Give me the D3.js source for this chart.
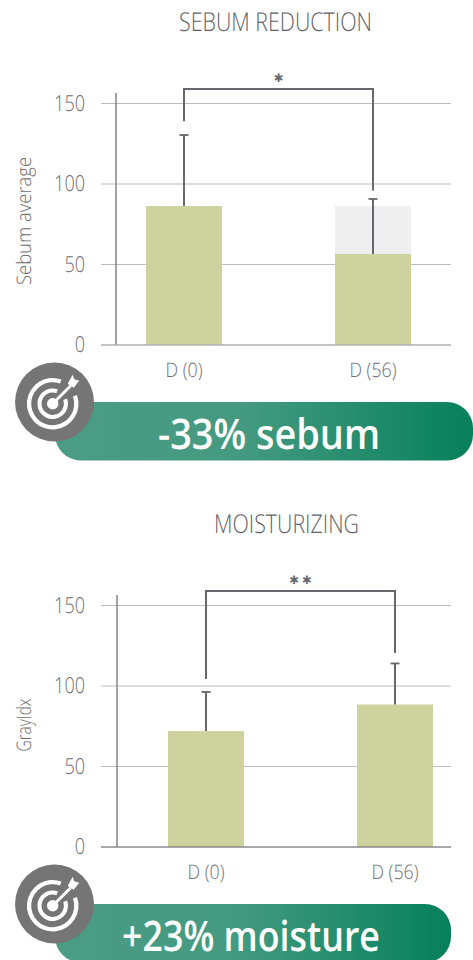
<!DOCTYPE html>
<html><head><meta charset="utf-8">
<style>html,body{margin:0;padding:0;background:#fff}svg{display:block}text{font-family:"Open Sans",sans-serif;text-rendering:geometricPrecision}</style>
<script src="https://cdnjs.cloudflare.com/ajax/libs/d3/7.8.5/d3.min.js"></script>
</head><body><svg id="c" width="473" height="960"></svg>
<script>
const categories = ["D (0)", "D (56)"];
const yTicks = [0, 50, 100, 150];
const sebumTitle = "SEBUM REDUCTION";
const sebumAxisLabel = "Sebum average";
const sebumBars = [86.3, 56.5];
const sebumGhost = [null, 86.3];
const sebumErrors = [130.4, 90.7];
const sebumBracket = [139, 96];
const sebumStars = "\u2731";
const sebumBanner = "-33% sebum";
const moistTitle = "MOISTURIZING";
const moistAxisLabel = "GrayIdx";
const moistBars = [72, 88.5];
const moistGhost = [null, null];
const moistErrors = [96.3, 114];
const moistBracket = [104.3, 120.5];
const moistStars = "\u2731\u2731";
const moistBanner = "+23% moisture";
const bracketTop = 159;

const svg = d3.select("#c");
const defs = svg.append("defs");
const gid = "bannerGrad";
const grad = defs.append("linearGradient").attr("id", gid).attr("x1","0").attr("x2","1").attr("y1","0").attr("y2","0");
grad.append("stop").attr("offset","0").attr("stop-color","#4b9c84");
grad.append("stop").attr("offset","0.45").attr("stop-color","#449a80");
grad.append("stop").attr("offset","1").attr("stop-color","#06805a");

// text squeezed horizontally to a target width
function fitted(sel, cx, y, str, size, width, color, weight, rot) {
  const t = sel.append("text").attr("text-anchor","middle").attr("font-size",size)
    .attr("fill",color).attr("font-weight",weight).text(str);
  const sx = width / t.node().getComputedTextLength();
  t.attr("transform", `translate(${cx},${y})${rot?" rotate(-90)":""} scale(${sx},1)`);
  return t;
}

function chart(o) {
  const g = svg.append("g");
  const y = d3.scaleLinear().domain([0,150]).range([o.y0, o.y0-241.5]);
  const x = d3.scalePoint().domain(categories).range(o.centers);
  const bw = 76;
  fitted(g, o.titleX, o.titleY, o.title, 26, o.titleW, "#5f6166", 300);
  g.selectAll(".g").data(yTicks.slice(1)).join("line")
    .attr("x1",101).attr("x2",451).attr("y1",d=>y(d)).attr("y2",d=>y(d))
    .attr("stroke","#bcbcbc").attr("stroke-width",1);
  g.selectAll(".ghost").data(o.ghost.map((v,i)=>({v,c:categories[i]})).filter(d=>d.v!=null)).join("rect")
    .attr("x",d=>x(d.c)-bw/2).attr("width",bw).attr("y",d=>y(d.v)).attr("height",d=>y(0)-y(d.v)).attr("fill","#efefef");
  g.selectAll(".bar").data(o.bars.map((v,i)=>({v,c:categories[i]}))).join("rect")
    .attr("x",d=>x(d.c)-bw/2).attr("width",bw).attr("y",d=>y(d.v)).attr("height",d=>y(0)-y(d.v)).attr("fill","#ced29f");
  g.append("line").attr("x1",o.axisX).attr("x2",o.axisX).attr("y1",y(150)-10.5).attr("y2",y(0)).attr("stroke","#85858a").attr("stroke-width",1.5);
  g.append("line").attr("x1",101).attr("x2",451).attr("y1",y(0)).attr("y2",y(0)).attr("stroke",o.baseColor).attr("stroke-width",1.4);
  o.errors.forEach((e,i)=>{
    const c = x(categories[i]);
    g.append("line").attr("x1",c).attr("x2",c).attr("y1",y(e)).attr("y2",y(o.bars[i])).attr("stroke","#66686d").attr("stroke-width",2);
    g.append("line").attr("x1",c-4.5).attr("x2",c+4.5).attr("y1",y(e)).attr("y2",y(e)).attr("stroke","#66686d").attr("stroke-width",1.8);
  });
  const path = d3.path();
  path.moveTo(x(categories[0]), y(o.bracket[0]));
  path.lineTo(x(categories[0]), y(bracketTop));
  path.lineTo(x(categories[1]), y(bracketTop));
  path.lineTo(x(categories[1]), y(o.bracket[1]));
  g.append("path").attr("d",path.toString()).attr("fill","none").attr("stroke","#66686d").attr("stroke-width",2);
  g.append("text").attr("x",d3.mean(o.centers)+(o.stars.length>1?1.5:0)).attr("y",y(bracketTop)-7)
    .attr("text-anchor","middle").attr("font-size",11.5).attr("fill","#66686d")
    .style("font-family","'DejaVu Sans'").attr("letter-spacing",o.stars.length>1?3:0).text(o.stars);
  yTicks.forEach(t=>{
    g.append("text").attr("transform",`translate(85,${y(t)+7.4}) scale(0.82,1)`).attr("text-anchor","end")
      .attr("font-size",22).attr("font-weight",300).attr("fill","#6c6d71").text(String(t));
  });
  fitted(g, o.axLabelX, o.axLabelY, o.axisLabel, 20, o.axLabelW, "#6c6d71", 300, true);
  const widths = [37, 47];
  categories.forEach((c,i)=>{
    fitted(g, x(c), o.y0+32, c, 20, widths[i], "#6c6d71", 300);
  });
  g.append("rect").attr("x",55).attr("y",o.y0+57).attr("width",o.bannerW).attr("height",58.5).attr("rx",26).attr("fill",`url(#${gid})`);
  fitted(g, o.bannerX, o.y0+104, o.banner, 42, o.bannerTextW, "#ffffff", 600);
  const ic = g.append("g").attr("transform",`translate(54.5,${o.y0+57})`);
  ic.append("circle").attr("r",39.5).attr("fill","#757575");
  const t = ic.append("g").attr("transform","translate(-1.8,1.7)");
  const arc = d3.arc();
  const gapA = Math.PI*0.11, gapB = Math.PI*0.39;
  [[21.5,25.8],[11.2,15.3]].forEach(([i,ou])=>{
    t.append("path").attr("d",arc({innerRadius:i,outerRadius:ou,startAngle:gapB,endAngle:Math.PI*2+gapA})).attr("fill","#fff");
  });
  t.append("circle").attr("r",5.7).attr("fill","#fff");
  t.append("line").attr("x1",0).attr("y1",0).attr("x2",18).attr("y2",-18).attr("stroke","#fff").attr("stroke-width",3);
  t.append("path").attr("d","M15,-20 L20,-29 L21.5,-24.5 L26.5,-23 L21,-16 Z").attr("fill","#fff");
}

chart({y0:345, centers:[184,373], axisX:116, title:sebumTitle, titleX:275.5, titleY:30.7, titleW:193, axisLabel:sebumAxisLabel, axLabelX:31, axLabelY:221, axLabelW:128,
  bars:sebumBars, ghost:sebumGhost, errors:sebumErrors, bracket:sebumBracket, stars:sebumStars, banner:sebumBanner, bannerX:269, bannerTextW:222, bannerW:418, baseColor:"#b0b0b0"});
chart({y0:847, centers:[206,395], axisX:117, title:moistTitle, titleX:286.5, titleY:533, titleW:145, axisLabel:moistAxisLabel, axLabelX:31, axLabelY:725, axLabelW:53,
  bars:moistBars, ghost:moistGhost, errors:moistErrors, bracket:moistBracket, stars:moistStars, banner:moistBanner, bannerX:251, bannerTextW:258, bannerW:396, baseColor:"#8a8a8a"});
</script></body></html>
